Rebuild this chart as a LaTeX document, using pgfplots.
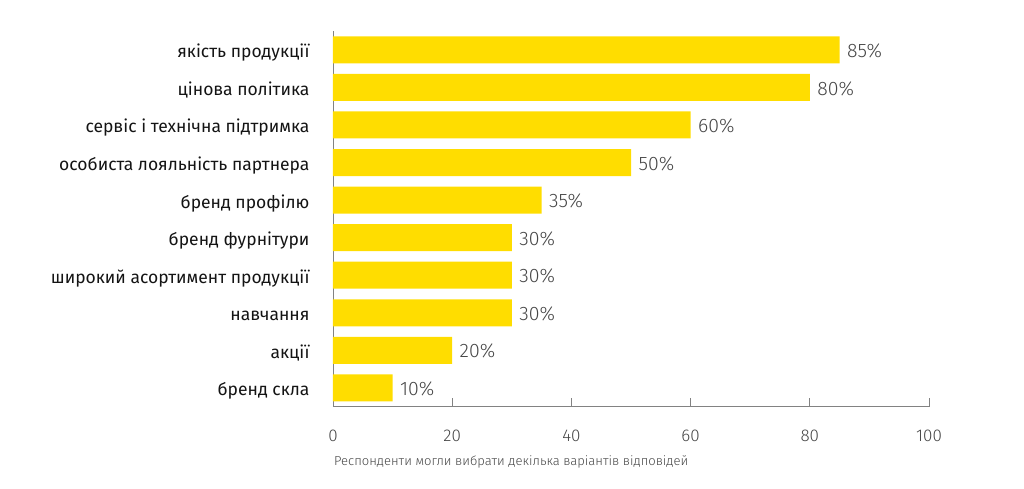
\documentclass[border=0pt]{standalone}
\usepackage{pgfplots}
\pgfplotsset{compat=1.18}
\usepackage{fontspec}
\setmainfont{Fira Sans}
\newfontfamily\lightfont{Fira Sans Light}
\definecolor{baryellow}{RGB}{255,221,0}
\definecolor{axisgray}{RGB}{130,130,130}
\definecolor{valgray}{RGB}{70,70,70}
\definecolor{labblack}{RGB}{20,20,20}

\begin{document}
\begin{tikzpicture}
% page size of the reference, axis box lower-left at origin
\path[use as bounding box] (-333pt,-82.3pt) rectangle (691pt,406.7pt);
\begin{axis}[
  scale only axis, width=596pt, height=375.6pt,
  xbar, bar width=27pt,
  xmin=0, xmax=100, ymin=0.5, ymax=10.5, y dir=reverse,
  axis x line=bottom, axis y line=left,
  axis line style={-, axisgray, line width=0.8pt},
  xtick={0,20,40,60,80,100},
  tick align=inside, major tick length=9pt,
  xtick style={axisgray, line width=0.8pt},
  ytick={1,...,10}, ytick style={draw=none},
  yticklabels={якість продукції, цінова політика, сервіс і технічна підтримка,
    особиста лояльність партнера, бренд профілю, бренд фурнітури,
    широкий асортимент продукції, навчання, акції, бренд скла},
  yticklabel style={font=\fontsize{17.5}{17.5}\selectfont, text=labblack, xshift=-20pt, yshift=-3pt},
  xticklabel style={font=\lightfont\fontsize{17}{17}\selectfont, text=valgray, yshift=-20pt},
  /pgf/number format/assume math mode=true,
  point meta=x,
  nodes near coords={\pgfmathprintnumber{\pgfplotspointmeta}\%},
  nodes near coords style={anchor=west, xshift=4pt, yshift=-1pt, font=\lightfont\fontsize{19.5}{19.5}\selectfont, text=valgray},
]
\addplot[draw=none, fill=baryellow] coordinates {
  (85,1) (80,2) (60,3) (50,4) (35,5) (30,6) (30,7) (30,8) (20,9) (10,10)};
\end{axis}
\node[anchor=west, inner sep=0pt, text=valgray, font=\lightfont\fontsize{13}{13}\selectfont]
  at (1pt,-55.3pt) {Респонденти могли вибрати декілька варіантів відповідей};
\end{tikzpicture}
\end{document}
